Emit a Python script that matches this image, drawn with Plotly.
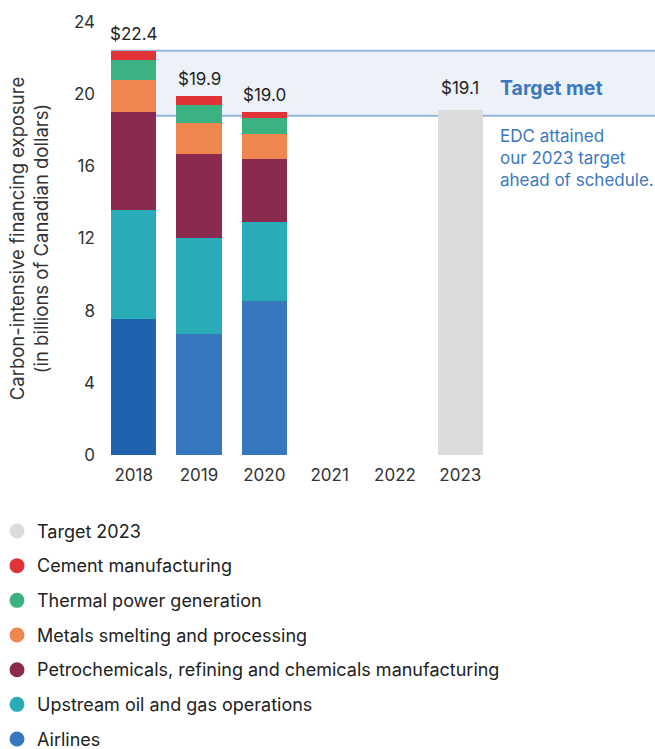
import plotly.graph_objects as go

years = ["2018", "2019", "2020", "2021", "2022", "2023"]
sectors = [
    "Airlines",
    "Upstream oil and gas operations",
    "Petrochemicals, refining and chemicals manufacturing",
    "Metals smelting and processing",
    "Thermal power generation",
    "Cement manufacturing",
]
values = {
    "Airlines": [7.54, 6.72, 8.54, None, None, None],
    "Upstream oil and gas operations": [6.04, 5.30, 4.38, None, None, None],
    "Petrochemicals, refining and chemicals manufacturing": [5.43, 4.66, 3.49, None, None, None],
    "Metals smelting and processing": [1.77, 1.72, 1.39, None, None, None],
    "Thermal power generation": [1.13, 1.00, 0.90, None, None, None],
    "Cement manufacturing": [0.48, 0.50, 0.31, None, None, None],
}
totals = [22.4, 19.9, 19.0, None, None, 19.1]
target_2023 = [None, None, None, None, None, 19.1]
target_band = [18.8, 22.4]
yticks = [0, 4, 8, 12, 16, 20, 24]

colors = {
    "Airlines": "#3677bd",
    "Upstream oil and gas operations": "#2aacb8",
    "Petrochemicals, refining and chemicals manufacturing": "#8b2a4f",
    "Metals smelting and processing": "#ef8650",
    "Thermal power generation": "#3cb282",
    "Cement manufacturing": "#e03237",
}
airline_bar_colors = ["#1f63ad", "#3677bd", "#3677bd", "#3677bd", "#3677bd", "#3677bd"]
target_color = "#dcdcdd"
blue_text = "#3a78bf"
band_line = "#94b6dc"
band_fill = "#edf2f8"
FONT = "Inter"

W, H = 655, 749
ML, MR, MT, MB = 101, 162, 22, 294
PW, PH = W - ML - MR, H - MT - MB


def px_x(px):
    return (px - ML) / PW


def px_y(py):
    return (H - MB - py) / PH


fig = go.Figure()

for s in sectors:
    fig.add_trace(go.Bar(
        x=years, y=values[s], name=s,
        marker=dict(color=airline_bar_colors if s == "Airlines" else colors[s], line=dict(width=0)),
        width=0.69, showlegend=False, hoverinfo="skip",
    ))
fig.add_trace(go.Bar(
    x=years, y=target_2023, name="Target 2023",
    marker=dict(color=target_color, line=dict(width=0)),
    width=0.69, showlegend=False, hoverinfo="skip",
))

# value labels above the bars
for i, t in enumerate(totals):
    if t is None:
        continue
    fig.add_annotation(xref="x", yref="y", x=i, y=t, text="$%.1f" % t, showarrow=False,
                       yanchor="bottom", yshift=5 if i < 5 else 10,
                       font=dict(family=FONT, size=17, color="#222"))

# target band
fig.add_shape(type="rect", xref="paper", yref="y", x0=px_x(111), x1=px_x(W + 5),
              y0=target_band[0], y1=target_band[1], fillcolor=band_fill,
              line=dict(width=0), layer="below")
for yv in target_band:
    fig.add_shape(type="line", xref="paper", yref="y", x0=px_x(111), x1=px_x(W + 5),
                  y0=yv, y1=yv, line=dict(color=band_line, width=2), layer="below")

fig.add_annotation(xref="paper", yref="y", x=px_x(498), y=20.35, xanchor="left",
                   text="<b>Target met</b>", showarrow=False,
                   font=dict(family=FONT, size=19.5, color=blue_text))
fig.add_annotation(xref="paper", yref="y", x=px_x(498), y=18.35, xanchor="left", yanchor="top",
                   align="left", text="EDC attained<br>our 2023 target<br>ahead of schedule.",
                   showarrow=False, font=dict(family=FONT, size=17, color=blue_text))

# legend (circle keys + labels)
legend_items = [("Target 2023", target_color)] + [(s, colors[s]) for s in reversed(sectors)]
for i, (name, col) in enumerate(legend_items):
    cy = 531 + i * 34.67
    fig.add_shape(type="circle", xref="paper", yref="paper",
                  xsizemode="pixel", ysizemode="pixel",
                  xanchor=px_x(17), yanchor=px_y(cy),
                  x0=-7.5, x1=7.5, y0=-7.5, y1=7.5,
                  fillcolor=col, line=dict(width=0))
    fig.add_annotation(xref="paper", yref="paper", x=px_x(35), y=px_y(cy),
                       xanchor="left", yanchor="middle", text=name, showarrow=False,
                       font=dict(family=FONT, size=18, color="#222"))

fig.update_layout(
    width=W, height=H,
    margin=dict(l=ML, r=MR, t=MT, b=MB),
    plot_bgcolor="white", paper_bgcolor="white",
    barmode="stack", bargap=0.31, showlegend=False,
    font=dict(family=FONT, size=17, color="#333"),
    xaxis=dict(type="category", categoryorder="array", categoryarray=years,
               showgrid=False, zeroline=False, showline=False, ticks="",
               ticklabelstandoff=8,
               tickfont=dict(size=17, color="#333"), range=[-0.5, 5.5]),
    yaxis=dict(range=[0, 24], tickvals=yticks, showgrid=False, zeroline=False,
               showline=False, ticks="", ticklabelstandoff=5,
               tickfont=dict(size=17, color="#333"),
               title=dict(text="Carbon-intensive financing exposure<br>(in billions of Canadian dollars)",
                          font=dict(size=18.5, color="#333"), standoff=20)),
)

fig.write_html("out.html")
